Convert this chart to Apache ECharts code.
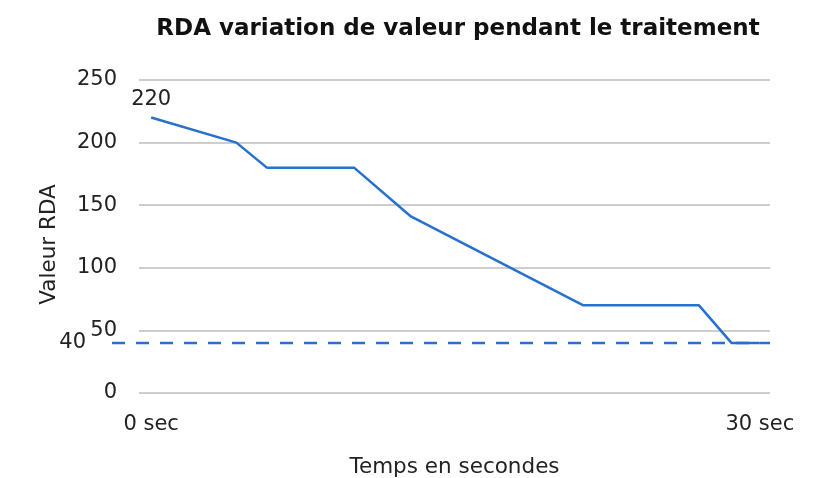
<!DOCTYPE html>
<html>
<head>
<meta charset="utf-8">
<script src="https://cdn.jsdelivr.net/npm/echarts@6/dist/echarts.min.js"></script>
<style>
  html, body { margin: 0; padding: 0; background: #fff; }
  #chart { width: 837px; height: 478px; }
</style>
</head>
<body>
<div id="chart"></div>
<script>
// temps (s) et valeur RDA
const temps = [0, 4.2, 5.7, 10, 12.8, 21.3, 27, 28.6, 30];
const valeurs = [220, 200, 180, 180, 141, 70, 70, 40, 40];
const seuil = 40;
const xLabels = [0, 30];

const blue = "#2670d0";
const font = "DejaVu Sans";

const chart = echarts.init(document.getElementById("chart"), null, { renderer: "canvas" });

chart.setOption({
  animation: false,
  textStyle: { fontFamily: font },
  title: {
    text: "RDA variation de valeur pendant le traitement",
    left: 453,
    top: 13,
    textAlign: "center",
    textStyle: { fontFamily: font, fontSize: 23, fontWeight: "bold", color: "#111" },
  },
  grid: [
    { left: 139, right: 67, top: 80, bottom: 85, outerBoundsMode: "none" },
    { left: 112, right: 67, top: 80, bottom: 85, outerBoundsMode: "none" },
  ],
  xAxis: [
    {
      type: "value",
      gridIndex: 0,
      min: -0.6,
      max: 30.5,
      name: "Temps en secondes",
      nameLocation: "middle",
      nameGap: 63,
      nameTextStyle: { fontSize: 21.5, color: "#222" },
      axisLine: { show: false },
      axisTick: { show: false },
      splitLine: { show: false },
      axisLabel: {
        customValues: xLabels,
        formatter: (v) => v + " sec",
        fontSize: 21,
        color: "#222",
        margin: 21,
      },
    },
    { type: "value", gridIndex: 1, min: 0, max: 1, show: false },
  ],
  yAxis: [
    {
      type: "value",
      gridIndex: 0,
      min: 0,
      max: 250,
      interval: 50,
      name: "Valeur RDA",
      nameLocation: "middle",
      nameGap: 79,
      nameTextStyle: { fontSize: 21.5, color: "#222", padding: [0, 16, 0, 0] },
      axisLine: { show: false },
      axisTick: { show: false },
      axisLabel: { fontSize: 21, color: "#222", margin: 22 },
      splitLine: { lineStyle: { color: "#bcbcbc", width: 1.5 } },
    },
    { type: "value", gridIndex: 1, min: 0, max: 250, show: false },
  ],
  series: [
    {
      type: "line",
      xAxisIndex: 1,
      yAxisIndex: 1,
      symbol: "circle",
      symbolSize: 0,
      showSymbol: true,
      lineStyle: { color: blue, width: 2.5, type: [13, 11] },
      label: { show: false },
      data: [
        {
          value: [0, seuil],
          label: {
            show: true,
            position: "left",
            distance: 26,
            formatter: String(seuil),
            fontSize: 21,
            color: "#222",
          },
        },
        [1, seuil],
      ],
      z: 2,
    },
    {
      type: "line",
      xAxisIndex: 0,
      yAxisIndex: 0,
      symbol: "circle",
      symbolSize: 0,
      showSymbol: true,
      lineStyle: { color: blue, width: 2.5 },
      label: { show: false, formatter: (p) => p.value[1] },
      data: temps.map((t, i) => {
        if (i === 0) {
          return {
            value: [t, valeurs[i]],
            label: { show: true, position: "top", distance: 8, fontSize: 21, color: "#222" },
          };
        }
        return [t, valeurs[i]];
      }),
      z: 3,
    },
  ],
});
</script>
</body>
</html>
